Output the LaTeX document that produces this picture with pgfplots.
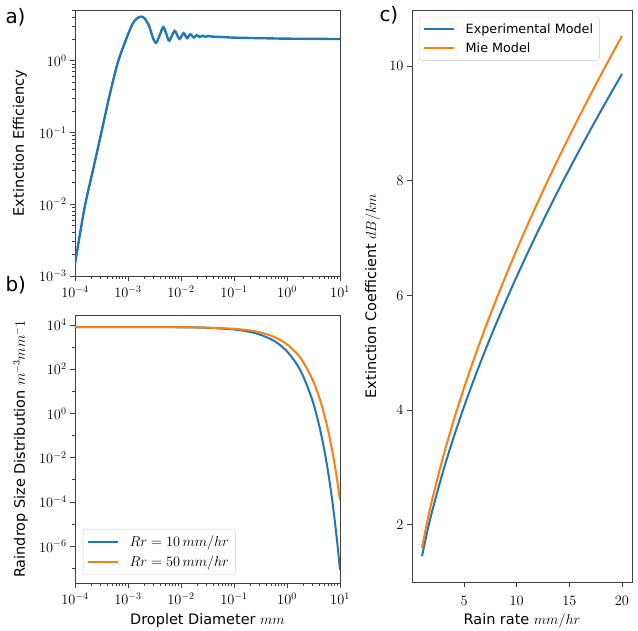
\documentclass[border=0pt]{standalone}
\usepackage{fontspec}
\setmainfont{DejaVu Sans}
\usepackage{pgfplots}
\pgfplotsset{compat=1.18}
\definecolor{tabblue}{HTML}{1F77B4}
\definecolor{taborange}{HTML}{FF7F0E}
\pgfplotsset{
  mpl/.style={
    scale only axis,
    axis line style={black!75, line width=0.8bp},
    every tick/.style={black!75, line width=0.8bp},
    tick align=outside,
    tick pos=left,
    major tick length=5bp,
    minor tick length=3bp,
    tick label style={font=\fontsize{14}{16}\selectfont},
    xticklabel style={yshift=-1.5bp},
    label style={font=\fontsize{14.5}{17}\selectfont},
    legend style={draw=black!20, rounded corners=2.5bp, fill=white,
      inner xsep=4bp, inner ysep=4bp, row sep=3bp,
      nodes={inner sep=2.5bp}, cells={anchor=west}},
    legend image code/.code={\draw[#1] (0bp,0bp) -- (30bp,0bp); \path (38bp,0bp);},
  }
}
\begin{document}
\begin{tikzpicture}
\useasboundingbox (0,0) rectangle (638bp,631bp);
% ---------------- panel a ----------------
\begin{axis}[mpl,
  at={(75bp,355bp)}, anchor=south west,
  width=265bp, height=266bp,
  xmode=log, ymode=log,
  xmin=1e-4, xmax=10, ymin=1e-3, ymax=5.1,
  ylabel={Extinction Efficiency},
  ylabel style={at={(axis description cs:-0.2075,0.5)}, anchor=center},
]
\addplot[tabblue, line width=2.4bp, smooth] coordinates {
(1.000e-4,1.479e-3) (1.514e-4,8.913e-3) (2.188e-4,3.020e-2) (3.020e-4,8.710e-2)
(4.467e-4,0.3236) (6.457e-4,0.9550) (9.333e-4,2.042) (1.230e-3,3.311)
(1.479e-3,3.890) (1.778e-3,4.121) (2.089e-3,3.846) (2.512e-3,3.020)
(2.951e-3,2.089) (3.388e-3,1.778) (3.981e-3,2.291) (4.624e-3,2.951)
(5.248e-3,2.399) (6.026e-3,1.905) (7.586e-3,2.600) (9.333e-3,2.018)
(1.122e-2,2.427) (1.303e-2,2.065) (1.503e-2,2.344) (1.738e-2,2.113)
(1.995e-2,2.275) (2.265e-2,2.138) (2.570e-2,2.239) (2.884e-2,2.153)
(3.236e-2,2.213) (3.981e-2,2.168) (6.310e-2,2.138) (0.1,2.099)
(0.3162,2.065) (1,2.032) (10,2.009)
};
\end{axis}
% ---------------- panel b ----------------
\begin{axis}[mpl,
  at={(75bp,48bp)}, anchor=south west,
  width=265bp, height=268bp,
  xmode=log, ymode=log,
  xmin=1e-4, xmax=10, ymin=2.2e-8, ymax=2.8e4,
  ytick={1e-6,1e-4,1e-2,1,1e2,1e4},
  minor ytick={1e-7,1e-5,1e-3,1e-1,1e1,1e3},
  xlabel={Droplet Diameter $mm$},
  xlabel style={at={(axis description cs:0.5,-0.14)}, anchor=center},
  ylabel={Raindrop Size Distribution $m^{-3}mm^{-}1$},
  ylabel style={at={(axis description cs:-0.205,0.5)}, anchor=center},
  legend style={at={(0.03,0.03)}, anchor=south west, font=\fontsize{15}{18}\selectfont},
]
\addplot[tabblue, line width=2bp, smooth] coordinates {
(1e-4,7998) (1e-3,7980) (1e-2,7800) (0.03,7416) (0.1,6213) (0.2,4825)
(0.3,3748) (0.5,2260) (0.7,1363) (1,638.6) (1.5,180.3) (2,50.95)
(3,4.066) (4,0.3246) (5,2.590e-2) (6,2.068e-3) (7,1.650e-4)
(8,1.318e-5) (9,1.051e-6) (10,8.39e-8)
};
\addlegendentry{$Rr = 10\,mm/hr$}
\addplot[taborange, line width=2bp, smooth] coordinates {
(1e-4,7999) (1e-3,7986) (1e-2,7857) (0.03,7579) (0.1,6680) (0.2,5578)
(0.3,4658) (0.5,3248) (0.7,2265) (1,1318) (1.5,535.3) (2,217.3)
(3,35.81) (4,5.90) (5,0.972) (6,0.1602) (7,2.64e-2)
(8,4.35e-3) (9,7.17e-4) (10,1.18e-4)
};
\addlegendentry{$Rr = 50\,mm/hr$}
\end{axis}
% ---------------- panel c ----------------
\begin{axis}[mpl,
  at={(412bp,49bp)}, anchor=south west,
  width=220bp, height=572bp,
  xmin=0.05, xmax=20.95, ymin=1.0, ymax=10.98,
  xtick={5,10,15,20}, ytick={2,4,6,8,10},
  xticklabel style={yshift=-4bp},
  xlabel={Rain rate $mm/hr$},
  xlabel style={at={(axis description cs:0.5,-0.067)}, anchor=center},
  ylabel={Extinction Coefficient $dB/km$},
  ylabel style={at={(axis description cs:-0.18,0.5)}, anchor=center},
  legend style={at={(0.032,0.988)}, anchor=north west, font=\fontsize{12.8}{15}\selectfont},
]
\addplot[tabblue, line width=2bp, smooth] coordinates {
(1,1.45) (1.5,1.880) (2,2.260) (3,2.929) (4,3.521) (5,4.062) (6,4.565) (7,5.038)
(8,5.487) (9,5.917) (10,6.330) (11,6.728) (12,7.113) (13,7.486) (14,7.851)
(15,8.205) (16,8.551) (17,8.889) (18,9.221) (19,9.545) (20,9.863)
};
\addlegendentry{Experimental Model}
\addplot[taborange, line width=2bp, smooth] coordinates {
(1,1.59) (1.5,2.054) (2,2.462) (3,3.180) (4,3.813) (5,4.390) (6,4.925) (7,5.429)
(8,5.905) (9,6.361) (10,6.798) (11,7.220) (12,7.627) (13,8.023) (14,8.407)
(15,8.780) (16,9.145) (17,9.501) (18,9.851) (19,10.192) (20,10.528)
};
\addlegendentry{Mie Model}
\end{axis}
% panel letters
\node[font=\fontsize{20}{24}\selectfont, anchor=west] at (2bp,614bp) {a)};
\node[font=\fontsize{20}{24}\selectfont, anchor=west] at (2bp,346bp) {b)};
\node[font=\fontsize{20}{24}\selectfont, anchor=west] at (376bp,616bp) {c)};
\end{tikzpicture}
\end{document}
